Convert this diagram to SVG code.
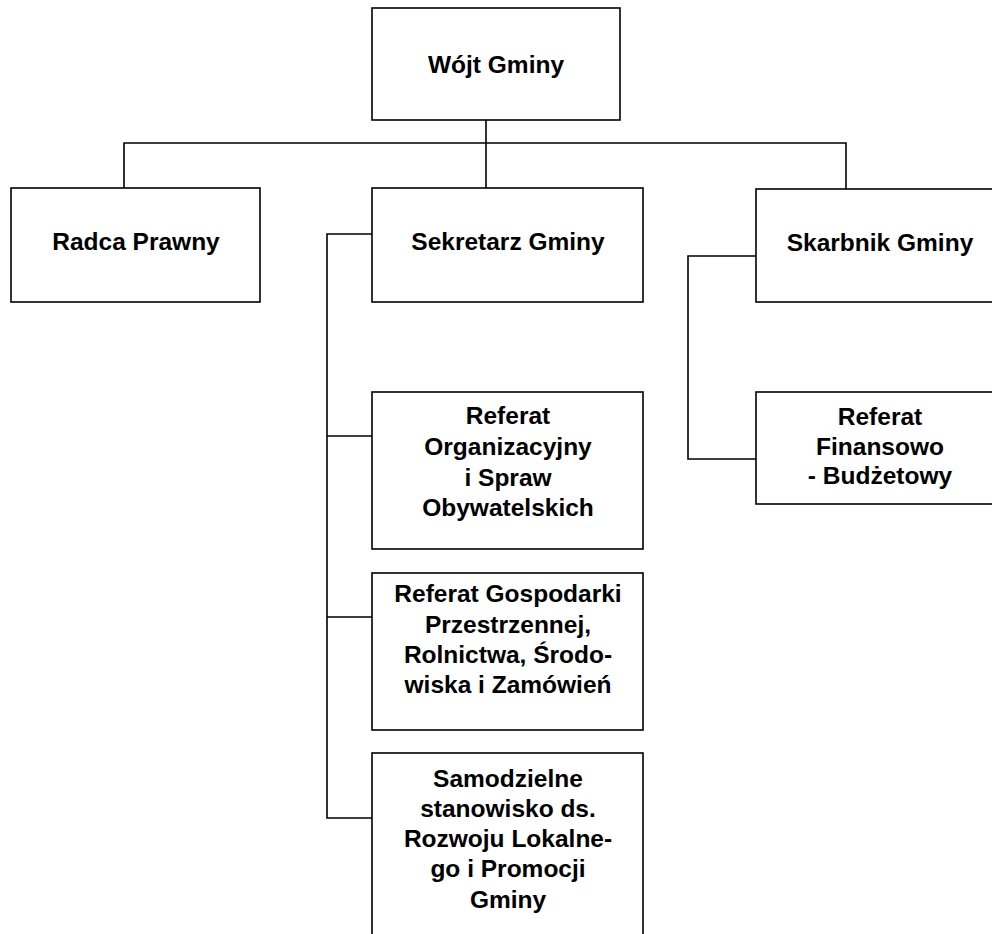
<svg xmlns="http://www.w3.org/2000/svg" width="992" height="934" viewBox="0 0 992 934">
<style>
.box{fill:#fff;stroke:#000;stroke-width:1.6}
.ln{fill:none;stroke:#000;stroke-width:1.6}
text{font-family:"Liberation Sans",Arial,sans-serif;font-weight:bold;font-size:24.5px;fill:#000;text-anchor:middle}
</style>
<rect width="992" height="934" fill="#fff"/>
<g id="connectors">
<path class="ln" d="M486 120V188M124 188V143H846V189"/>
<path class="ln" d="M372 234H327V818H372M327 436H372M327 617H372"/>
<path class="ln" d="M756 256H688V459H756"/>
</g>
<g id="wojt"><rect class="box" x="372" y="8" width="248" height="112"/><text x="496" y="73">Wójt Gminy</text></g>
<g id="radca"><rect class="box" x="11" y="188" width="249" height="114"/><text x="136" y="250">Radca Prawny</text></g>
<g id="sekretarz"><rect class="box" x="372" y="188" width="271" height="114"/><text x="508" y="250">Sekretarz Gminy</text></g>
<g id="skarbnik"><rect class="box" x="756" y="189" width="271" height="113"/><text x="880" y="251">Skarbnik Gminy</text></g>
<g id="ref-fin"><rect class="box" x="756" y="392" width="271" height="112"/>
<text x="880" y="425">Referat</text><text x="880" y="455">Finansowo</text><text x="880" y="484">- Budżetowy</text></g>
<g id="ref-org"><rect class="box" x="372" y="392" width="271" height="157"/>
<text x="508" y="424">Referat</text><text x="508" y="455">Organizacyjny</text><text x="508" y="486">i Spraw</text><text x="508" y="516">Obywatelskich</text></g>
<g id="ref-gosp"><rect class="box" x="372" y="573" width="271" height="157"/>
<text x="508" y="602">Referat Gospodarki</text><text x="508" y="633">Przestrzennej,</text><text x="508" y="663">Rolnictwa, Środo-</text><text x="508" y="693">wiska i Zamówień</text></g>
<g id="samodzielne"><rect class="box" x="372" y="753" width="271" height="220"/>
<text x="508" y="787">Samodzielne</text><text x="508" y="817">stanowisko ds.</text><text x="508" y="847">Rozwoju Lokalne-</text><text x="508" y="877">go i Promocji</text><text x="508" y="908">Gminy</text></g>
</svg>
